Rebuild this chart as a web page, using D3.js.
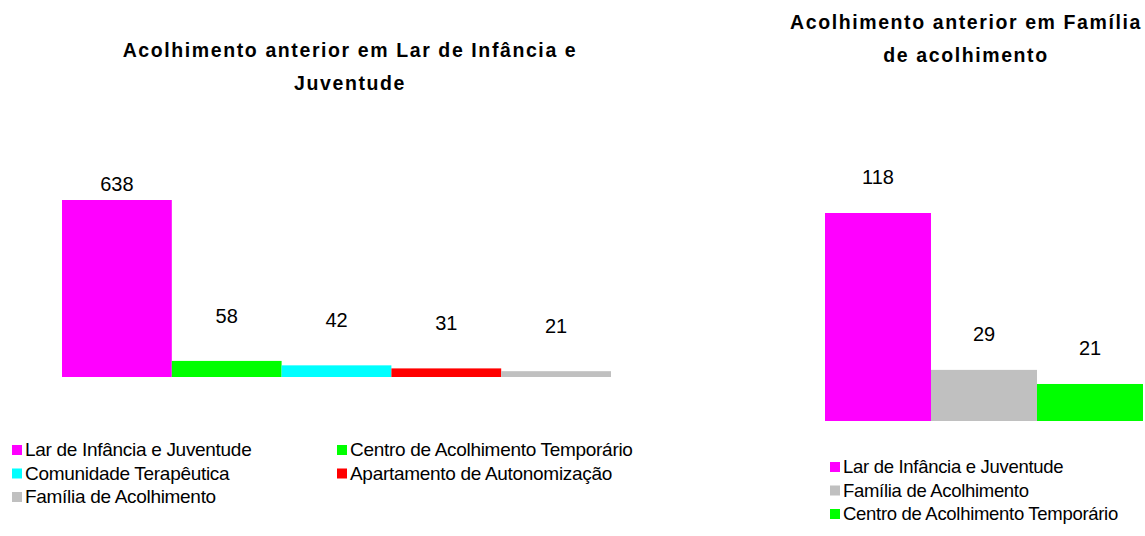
<!DOCTYPE html>
<html>
<head>
<meta charset="utf-8">
<script src="https://cdn.jsdelivr.net/npm/d3@7"></script>
<style>
  body { margin: 0; background: #fff; }
  svg text { font-family: "Liberation Sans", Arial, sans-serif; fill: #000; }
</style>
</head>
<body>
<svg id="chart" width="1145" height="536"></svg>
<script>
"use strict";

// left chart: previous placement in Lar de Infancia e Juventude
var larCategories = ["Lar de Infância e Juventude", "Centro de Acolhimento Temporário",
  "Comunidade Terapêutica", "Apartamento de Autonomização", "Família de Acolhimento"];
var larValues = [638, 58, 42, 31, 21];
var larColors = ["#ff00ff", "#00ff00", "#00ffff", "#ff0000", "#c0c0c0"];
var larTitle = ["Acolhimento anterior em Lar de Infância e", "Juventude"];

// right chart: previous placement in Familia de acolhimento
var famCategories = ["Lar de Infância e Juventude", "Família de Acolhimento",
  "Centro de Acolhimento Temporário"];
var famValues = [118, 29, 21];
var famColors = ["#ff00ff", "#c0c0c0", "#00ff00"];
var famTitle = ["Acolhimento anterior em Família", "de acolhimento"];

var svg = d3.select("#chart");

function drawChart(opt) {
  var g = svg.append("g");

  var x = d3.scaleBand()
    .domain(opt.categories)
    .range([opt.left, opt.right])
    .padding(0);

  var y = d3.scaleLinear()
    .domain([0, d3.max(opt.values)])
    .range([opt.base, opt.top]);

  var color = d3.scaleOrdinal().domain(opt.categories).range(opt.colors);

  var rows = opt.categories.map(function(c, i) { return { name: c, value: opt.values[i] }; });

  // title
  g.selectAll(".title")
    .data(opt.title)
    .enter().append("text")
      .attr("class", "title")
      .attr("x", opt.titleX)
      .attr("y", function(d, i) { return opt.titleY + i * 33; })
      .attr("text-anchor", "middle")
      .style("font-size", "19.5px")
      .style("font-weight", "bold")
      .style("letter-spacing", "1.6px")
      .text(function(d) { return d; });

  g.selectAll("rect.bar")
    .data(rows)
    .enter().append("rect")
      .attr("class", "bar")
      .attr("x", function(d) { return x(d.name); })
      .attr("width", x.bandwidth())
      .attr("y", function(d) { return y(d.value); })
      .attr("height", function(d) { return opt.base - y(d.value); })
      .style("fill", function(d) { return color(d.name); });

  g.selectAll("text.val")
    .data(rows)
    .enter().append("text")
      .attr("class", "val")
      .attr("x", function(d) { return x(d.name) + x.bandwidth() / 2; })
      .attr("y", function(d) { return Math.max(y(d.value) - opt.lift, opt.labelMin) + 7; })
      .attr("text-anchor", "middle")
      .style("font-size", "20px")
      .text(function(d) { return d.value; });

  // legend
  var leg = g.selectAll(".leg")
    .data(rows)
    .enter().append("g")
      .attr("class", "leg")
      .attr("transform", function(d, i) {
        var col = i % opt.legCols, row = Math.floor(i / opt.legCols);
        return "translate(" + (opt.legX + col * opt.legColW) + "," + (opt.legY + row * 23.5) + ")";
      });

  leg.append("rect")
    .attr("x", 0).attr("y", -5)
    .attr("width", 10).attr("height", 10)
    .style("fill", function(d) { return color(d.name); });

  leg.append("text")
    .attr("x", 13).attr("y", 6)
    .style("font-size", opt.legFont + "px")
    .style("letter-spacing", "-0.3px")
    .text(function(d) { return d.name; });
}

drawChart({
  categories: larCategories, values: larValues, colors: larColors, title: larTitle,
  left: 62, right: 611, top: 200, base: 377,
  lift: 45, labelMin: 184,
  titleX: 350, titleY: 57,
  legX: 12, legY: 450, legCols: 2, legColW: 325, legFont: 19
});

drawChart({
  categories: famCategories, values: famValues, colors: famColors, title: famTitle,
  left: 825, right: 1143, top: 213, base: 421,
  lift: 36, labelMin: 0,
  titleX: 966, titleY: 29,
  legX: 830, legY: 467, legCols: 1, legColW: 0, legFont: 18.5
});
</script>
</body>
</html>
